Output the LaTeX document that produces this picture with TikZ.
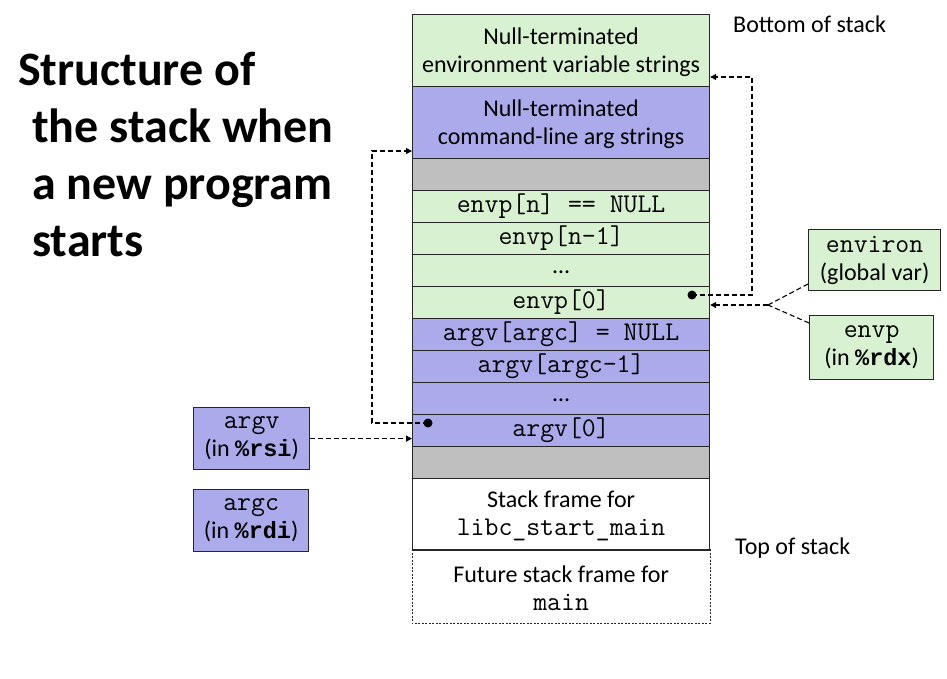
\documentclass[tikz,border=0pt]{standalone}
\usepackage{fontspec}
\setmainfont{Carlito}
\newfontfamily\boldmonofont{Liberation Mono}
\usetikzlibrary{arrows.meta}
\definecolor{cgreen}{HTML}{D8F1D0}
\definecolor{cpurple}{HTML}{ABABEC}
\definecolor{cgray}{HTML}{BFBFBF}
\definecolor{cline}{HTML}{262626}
\newcommand{\bodyfont}{\fontsize{24}{28}\selectfont}
\newcommand{\mono}[1]{{\fontsize{27}{28}\selectfont\ttfamily #1}}
\newcommand{\bmono}[1]{{\fontsize{23.5}{28}\selectfont\boldmonofont\bfseries #1}}
\begin{document}
\begin{tikzpicture}[x=1pt,y=-1pt,
  cell/.style={draw=cline, line width=1.2pt, minimum width=297pt, inner sep=0pt,
    anchor=north west, align=center, font=\bodyfont},
  gcell/.style={cell, fill=cgreen},
  pcell/.style={cell, fill=cpurple},
  graycell/.style={cell, fill=cgray},
  wcell/.style={cell, fill=white},
  sidebox/.style={draw=cline, line width=1.2pt, inner sep=0pt, anchor=north west,
    align=center, font=\bodyfont},
  dot/.style={circle, fill=black, inner sep=0pt, minimum size=9pt},
  dline/.style={line width=1.1pt, dash pattern=on 5pt off 3pt},
  conn/.style={dline, -{Triangle[length=6pt,width=6pt]}},
  title/.style={anchor=base west, inner sep=0pt, font=\fontsize{48}{57}\selectfont\bfseries},
  lbl/.style={anchor=base west, inner sep=0pt, font=\bodyfont}
]
\useasboundingbox[fill=white] (0,0) rectangle (947,678);

% title
\node[title] (t1) at (18,85) {Structure of};
\node[title] (t2) at (32,142) {the stack when};
\node[title] (t3) at (32,199) {a new program};
\node[title] (t4) at (32,256) {starts};

% stack
\node[gcell, minimum height=72pt] (envstr) at (412,14) {\rule{0pt}{20pt}Null-terminated\\environment variable strings};
\node[pcell, minimum height=72pt] (cmdstr) at (412,86) {\rule{0pt}{20pt}Null-terminated\\command-line arg strings};
\node[graycell, minimum height=32pt] (gap1) at (412,158) {};
\node[gcell, minimum height=32pt] (envpn) at (412,190) {\mono{envp[n] == NULL}};
\node[gcell, minimum height=32pt] (envpn1) at (412,222) {\mono{envp[n-1]}};
\node[gcell, minimum height=32pt] (envpdots) at (412,254) {\raisebox{-5pt}{…}};
\node[gcell, minimum height=32pt] (envp0) at (412,286) {\mono{envp[0]}};
\node[pcell, minimum height=32pt] (argvnull) at (412,318) {\mono{argv[argc] = NULL}};
\node[pcell, minimum height=32pt] (argvc1) at (412,350) {\mono{argv[argc-1]}};
\node[pcell, minimum height=32pt] (argvdots) at (412,382) {\raisebox{-5pt}{…}};
\node[pcell, minimum height=32pt] (argv0) at (412,414) {\mono{argv[0]}};
\node[graycell, minimum height=32pt] (gap2) at (412,446) {};
\node[wcell, minimum height=71pt] (libc) at (412,478) {\rule{0pt}{20pt}Stack frame for\\\mono{libc\_start\_main}};
\node[cell, draw=none, minimum height=73pt] (future) at (412,549) {\rule{0pt}{20pt}Future stack frame for\\\mono{main}};
\draw[cline, line width=0.9pt, dash pattern=on 2pt off 1.5pt]
  (future.north west) -- (future.south west) -- (future.south east) -- (future.north east);
\draw[cline, line width=1.2pt] (libc.south west) -- (libc.south east);

% side labels
\node[lbl] (bottom) at (733,32) {Bottom of stack};
\node[lbl] (top) at (735,554) {Top of stack};

% side boxes
\node[sidebox, fill=cgreen, minimum width=132pt, minimum height=61pt] (environ) at (808,229) {\mono{environ}\\(global var)};
\node[sidebox, fill=cgreen, minimum width=124pt, minimum height=64pt] (envpbox) at (809,315) {\mono{envp}\\(in \bmono{\%rdx})};
\node[sidebox, fill=cpurple, minimum width=116pt, minimum height=62pt] (argvbox) at (193,407) {\mono{argv}\\(in \bmono{\%rsi})};
\node[sidebox, fill=cpurple, minimum width=115pt, minimum height=62pt] (argcbox) at (193,489) {\mono{argc}\\(in \bmono{\%rdi})};

% pointers
\node[dot] (d1) at (692,295) {};
\node[dot] (d2) at (428,423) {};
\coordinate (j) at (768,305);

\draw[conn] (d1.center) -- (752,295) -- (752,77) -- (envstr.east |- 0,77);
\draw[dline] (environ.west |- 0,284) -- (j);
\draw[dline] (envpbox.west |- 0,323) -- (j);
\draw[conn] (j) -- (envp0.east |- j);
\draw[conn] (d2.center) -- (372,423) -- (372,151) -- (cmdstr.west |- 0,151);
\draw[conn] (argvbox.east) -- (argv0.west |- argvbox.east);
\end{tikzpicture}
\end{document}
